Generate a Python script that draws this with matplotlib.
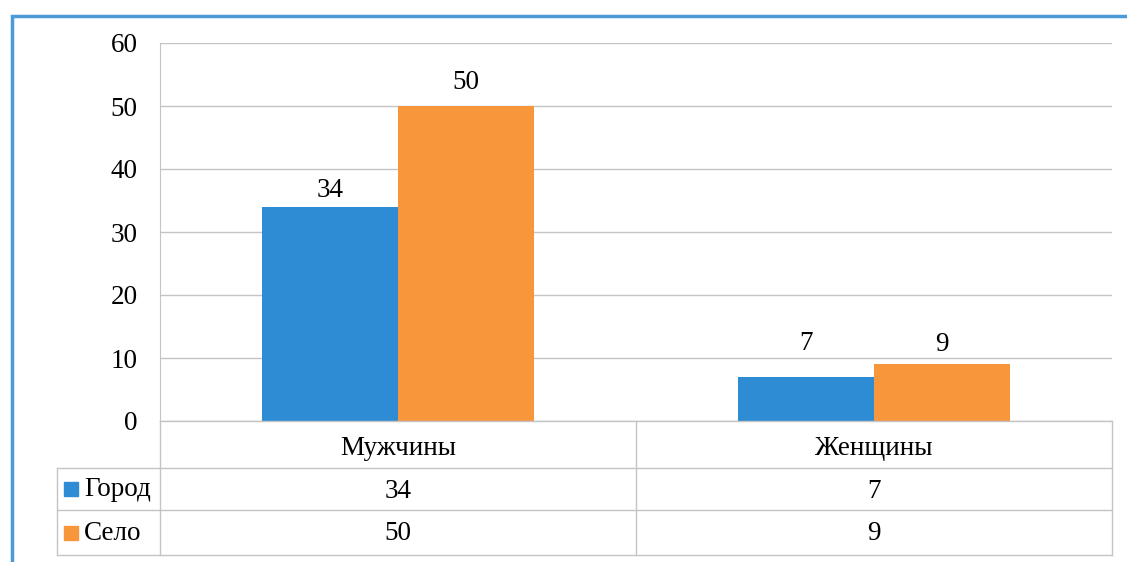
import numpy as np
import matplotlib.pyplot as plt
from matplotlib.patches import Rectangle
from matplotlib.lines import Line2D

categories = ["Мужчины", "Женщины"]
series_names = ["Город", "Село"]
gorod = [34, 7]
selo = [50, 9]
yticks = [0, 10, 20, 30, 40, 50, 60]

colors = ["#2e8cd4", "#f7963a"]
grid_color = "#c4c4c4"
border_color = "#4b9bd9"
fs = 19.5

plt.rcParams['font.family'] = ['Liberation Serif', 'DejaVu Serif']

W, H = 1127, 562
fig = plt.figure(figsize=(W / 100, H / 100), dpi=100)
fig.patch.set_facecolor("white")


def px(x0, y0, x1, y1):
    # pixel box -> figure fraction [left, bottom, width, height]
    return [x0 / W, 1 - y1 / H, (x1 - x0) / W, (y1 - y0) / H]


# outer blue frame (only top and left edges visible)
fig.patches.append(Rectangle((12 / W, -0.1), 1.2, 1 - 16 / H + 0.1,
                             transform=fig.transFigure, fill=False,
                             edgecolor=border_color, linewidth=2.5))

ax = fig.add_axes(px(160, 43, 1112, 421))
x = np.arange(len(categories))
w = 0.285
ax.bar(x - w / 2, gorod, w, color=colors[0], label=series_names[0])
ax.bar(x + w / 2, selo, w, color=colors[1], label=series_names[1])

# value labels (the scan puts them at slightly uneven heights)
gaps = {0: [3, 15], 1: [8, 5]}
for s, vals in enumerate([gorod, selo]):
    for i, v in enumerate(vals):
        xi = x[i] + (s - 0.5) * w
        ax.annotate(str(v), (xi, v), xytext=(0, gaps[s][i]),
                    textcoords="offset points", ha="center", va="bottom",
                    fontsize=fs)

ax.set_xlim(-0.5, len(categories) - 0.5)
ax.set_ylim(0, 60)
ax.set_yticks(yticks)
ax.tick_params(axis="y", length=0, pad=16, labelsize=fs)
ax.tick_params(axis="x", length=0, labelbottom=False)
ax.grid(axis="y", color=grid_color, linewidth=1)
ax.set_axisbelow(True)
for side in ["top", "right", "bottom"]:
    ax.spines[side].set_visible(False)
ax.spines["left"].set_color(grid_color)

# data table below the chart
per_cat = 952 / len(categories)
left_x = -0.5 - 103 / per_cat
right_x = len(categories) - 0.5
rows = [0, 47, 89, 134]
tab = fig.add_axes(px(57, 421, 1112, 555))
tab.set_xlim(left_x, right_x)
tab.set_ylim(rows[-1], 0)
tab.axis("off")

lk = dict(color=grid_color, linewidth=1, clip_on=False)
tab.add_line(Line2D([-0.5, right_x], [0, 0], **lk))
for r in rows[1:]:
    tab.add_line(Line2D([left_x, right_x], [r, r], **lk))
for b in np.arange(len(categories) + 1) - 0.5:
    tab.add_line(Line2D([b, b], [0, rows[-1]], **lk))
tab.add_line(Line2D([left_x, left_x], [rows[1], rows[-1]], **lk))

mid = [(rows[k] + rows[k + 1]) / 2 for k in range(3)]
for i, cat in enumerate(categories):
    tab.text(i, mid[0] + 4, cat, ha="center", va="center", fontsize=fs)
    tab.text(i, mid[1] + 2, str(gorod[i]), ha="center", va="center", fontsize=fs)
    tab.text(i, mid[2] + 1, str(selo[i]), ha="center", va="center", fontsize=fs)

for r, (name, c) in enumerate(zip(series_names, colors)):
    tab.plot(left_x + 0.03, mid[1 + r], marker="s", markersize=9.5, color=c,
             clip_on=False)
    tab.text(left_x + 0.057, mid[1 + r] + 1, name, ha="left", va="center",
             fontsize=fs)

fig.savefig("out.png", dpi=100)
